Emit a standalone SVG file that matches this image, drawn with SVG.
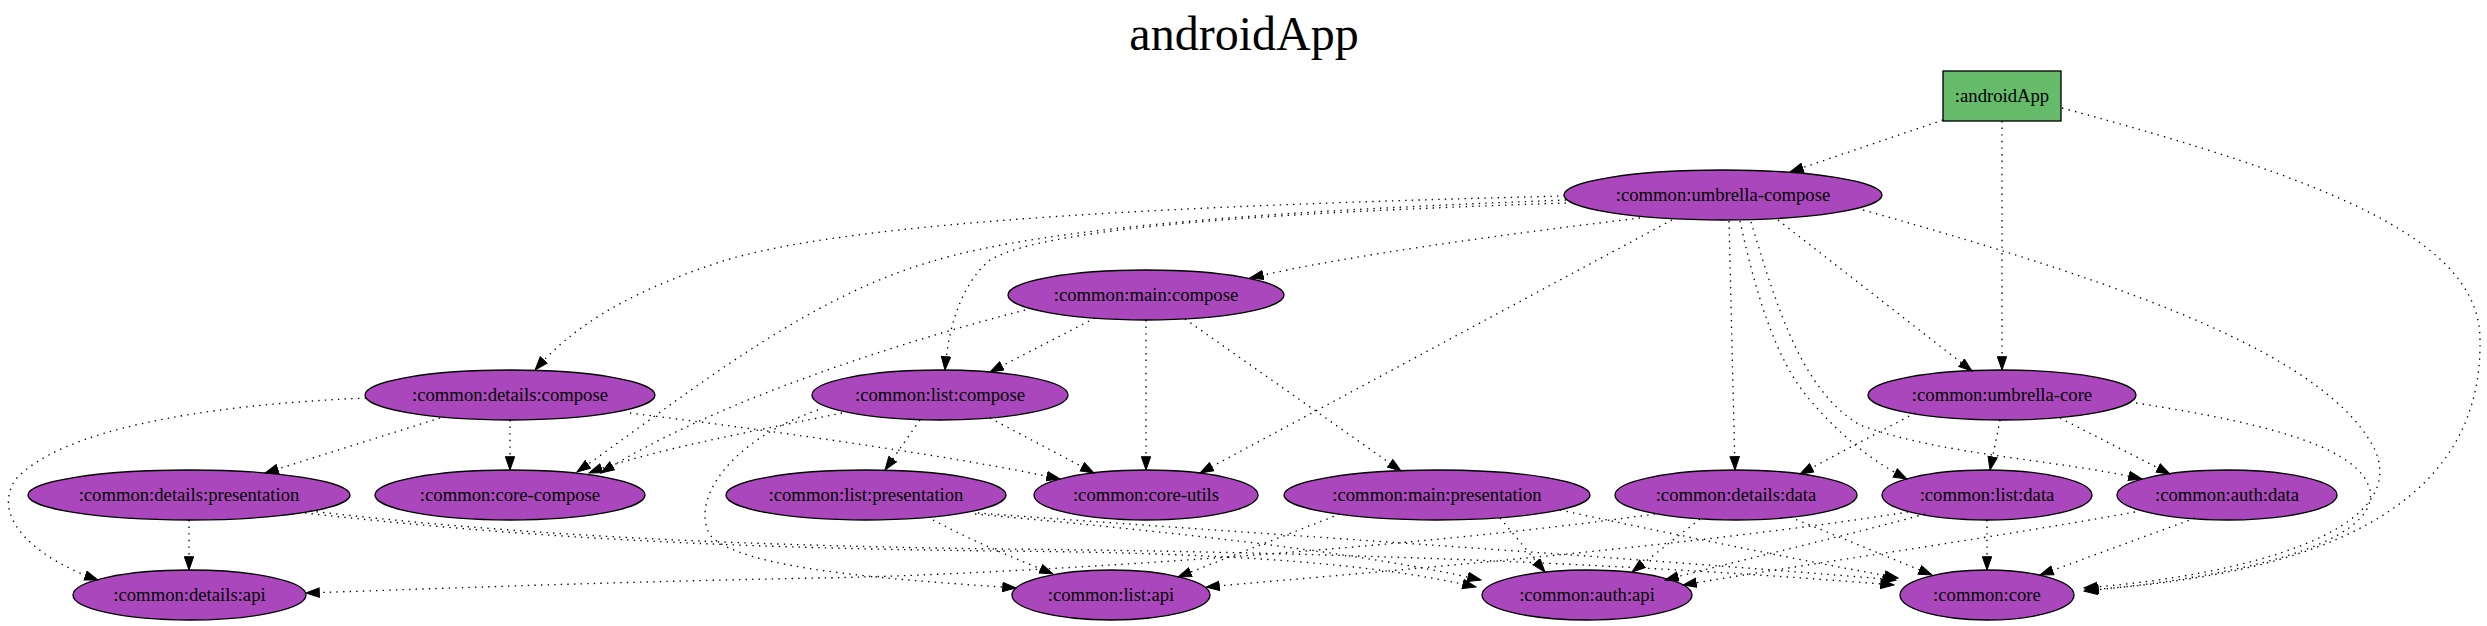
<svg xmlns="http://www.w3.org/2000/svg" width="2487" height="626" viewBox="0 0 2487 626">
<style>
.t{font-family:"Liberation Serif","Times New Roman",serif;font-size:18.67px;text-anchor:middle;fill:#000}
.n{fill:#AB47BC;stroke:#000;stroke-width:1.33}
.e{fill:none;stroke:#000;stroke-width:1.33;stroke-dasharray:1.4,5.2;marker-end:url(#arr)}
</style>
<defs>
<marker id="arr" markerUnits="userSpaceOnUse" markerWidth="15" markerHeight="11" viewBox="-0.5 -0.5 15 11" refX="13.3" refY="4.67" orient="auto">
<path d="M0,0 L13.3,4.67 L0,9.33 Z" fill="#000" stroke="#000" stroke-width="1"/>
</marker>
</defs>
<rect x="0" y="0" width="2487" height="626" fill="#fff"/>
<text x="1244" y="50" style="font-family:'Liberation Serif','Times New Roman',serif;font-size:48px;text-anchor:middle">androidApp</text>

<g id="node-androidApp"><rect x="1943" y="71" width="118" height="50" fill="#66BB6A" stroke="#000" stroke-width="1.33"/><text class="t" x="2002" y="102">:androidApp</text></g>
<g id="node-umbrella-compose"><ellipse class="n" cx="1723" cy="195" rx="159" ry="25"/><text class="t" x="1723" y="201">:common:umbrella-compose</text></g>
<g id="node-main-compose"><ellipse class="n" cx="1146" cy="295" rx="138" ry="25"/><text class="t" x="1146" y="301">:common:main:compose</text></g>
<g id="node-details-compose"><ellipse class="n" cx="510" cy="395" rx="145" ry="25"/><text class="t" x="510" y="401">:common:details:compose</text></g>
<g id="node-list-compose"><ellipse class="n" cx="940" cy="395" rx="128" ry="25"/><text class="t" x="940" y="401">:common:list:compose</text></g>
<g id="node-umbrella-core"><ellipse class="n" cx="2002" cy="395" rx="134" ry="25"/><text class="t" x="2002" y="401">:common:umbrella-core</text></g>
<g id="node-details-presentation"><ellipse class="n" cx="189" cy="495" rx="161" ry="25"/><text class="t" x="189" y="501">:common:details:presentation</text></g>
<g id="node-core-compose"><ellipse class="n" cx="510" cy="495" rx="135" ry="25"/><text class="t" x="510" y="501">:common:core-compose</text></g>
<g id="node-list-presentation"><ellipse class="n" cx="866" cy="495" rx="140" ry="25"/><text class="t" x="866" y="501">:common:list:presentation</text></g>
<g id="node-core-utils"><ellipse class="n" cx="1146" cy="495" rx="112" ry="25"/><text class="t" x="1146" y="501">:common:core-utils</text></g>
<g id="node-main-presentation"><ellipse class="n" cx="1437" cy="495" rx="153" ry="25"/><text class="t" x="1437" y="501">:common:main:presentation</text></g>
<g id="node-details-data"><ellipse class="n" cx="1736" cy="495" rx="121" ry="25"/><text class="t" x="1736" y="501">:common:details:data</text></g>
<g id="node-list-data"><ellipse class="n" cx="1987" cy="495" rx="105" ry="25"/><text class="t" x="1987" y="501">:common:list:data</text></g>
<g id="node-auth-data"><ellipse class="n" cx="2227" cy="495" rx="110" ry="25"/><text class="t" x="2227" y="501">:common:auth:data</text></g>
<g id="node-details-api"><ellipse class="n" cx="189.5" cy="595" rx="116.5" ry="25"/><text class="t" x="189.5" y="601">:common:details:api</text></g>
<g id="node-list-api"><ellipse class="n" cx="1111" cy="595" rx="99" ry="25"/><text class="t" x="1111" y="601">:common:list:api</text></g>
<g id="node-auth-api"><ellipse class="n" cx="1587" cy="595" rx="105" ry="25"/><text class="t" x="1587" y="601">:common:auth:api</text></g>
<g id="node-core"><ellipse class="n" cx="1987" cy="595" rx="87" ry="25"/><text class="t" x="1987" y="601">:common:core</text></g>

<g id="connectors">
<path class="e" d="M1943,120 L1790,172"/>
<path class="e" d="M2002,121 L2002,370"/>
<path class="e" d="M2062,108 C2330,180 2480,240 2480,340 C2482,460 2400,570 2085,590"/>
<path class="e" d="M1565,196 C1200,205 850,220 720,262 C620,295 570,330 535,370"/>
<path class="e" d="M1566,200 C1300,210 1050,225 930,262 C800,300 680,400 577,472"/>
<path class="e" d="M1566,203 C1300,212 1050,225 990,260 C960,285 948,330 945,370"/>
<path class="e" d="M1640,218 C1500,235 1350,255 1250,278"/>
<path class="e" d="M1672,220 L1200,473"/>
<path class="e" d="M1729,221 L1735,470"/>
<path class="e" d="M1740,221 C1755,290 1775,360 1810,400 C1840,435 1870,460 1907,479"/>
<path class="e" d="M1751,222 C1775,300 1800,390 1860,425 C1940,455 2060,460 2142,479"/>
<path class="e" d="M1778,220 L1972,371"/>
<path class="e" d="M1863,210 C2150,290 2330,360 2375,450 C2410,530 2250,575 2084,588"/>
<path class="e" d="M1095,318 L990,372"/>
<path class="e" d="M1025,310 C870,350 700,410 601,473"/>
<path class="e" d="M1146,320 L1146,470"/>
<path class="e" d="M1185,319 L1401,471"/>
<path class="e" d="M440,418 L265,473"/>
<path class="e" d="M510,420 L510,470"/>
<path class="e" d="M366,398 C200,405 60,430 15,480 C-10,520 40,560 98,580"/>
<path class="e" d="M630,413 C750,428 950,455 1060,479"/>
<path class="e" d="M920,420 L885,470"/>
<path class="e" d="M990,418 L1094,473"/>
<path class="e" d="M842,413 C760,430 650,450 589,473"/>
<path class="e" d="M818,410 C730,440 690,500 710,535 C740,570 900,580 1016,588"/>
<path class="e" d="M189,520 L189,570"/>
<path class="e" d="M305,513 C500,535 700,548 1000,551 C1250,553 1380,565 1476,587"/>
<path class="e" d="M310,511 C500,533 700,545 1000,549 C1350,552 1650,565 1894,585"/>
<path class="e" d="M933,520 C980,545 1020,560 1053,574"/>
<path class="e" d="M975,514 C1150,530 1350,550 1481,580"/>
<path class="e" d="M978,513 C1200,530 1600,555 1896,580"/>
<path class="e" d="M1340,514 L1178,577"/>
<path class="e" d="M1500,518 L1545,572"/>
<path class="e" d="M1560,510 C1700,540 1800,560 1898,578"/>
<path class="e" d="M1655,514 C1400,550 1000,575 820,578 C600,582 400,590 306,593"/>
<path class="e" d="M1700,519 L1632,572"/>
<path class="e" d="M1790,517 L1932,575"/>
<path class="e" d="M1908,512 C1700,545 1400,570 1206,587"/>
<path class="e" d="M1925,514 C1830,540 1740,560 1665,580"/>
<path class="e" d="M1987,520 L1987,570"/>
<path class="e" d="M2135,512 C1980,540 1800,565 1683,585"/>
<path class="e" d="M2195,518 L2040,575"/>
<path class="e" d="M1915,413 L1800,474"/>
<path class="e" d="M2000,420 L1990,470"/>
<path class="e" d="M2060,418 L2170,474"/>
<path class="e" d="M2136,403 C2280,425 2360,450 2370,490 C2380,545 2230,578 2084,591"/>
</g>
</svg>
